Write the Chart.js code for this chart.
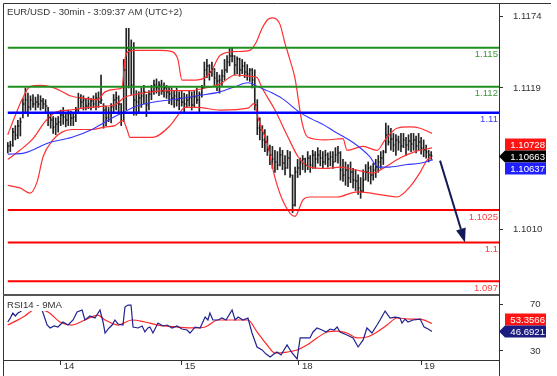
<!DOCTYPE html>
<html><head><meta charset="utf-8">
<script src="https://cdn.jsdelivr.net/npm/chart.js@4.4.1/dist/chart.umd.min.js"></script>
<style>
html,body{margin:0;padding:0;background:#fff;}
body{width:557px;height:376px;position:relative;overflow:hidden}
canvas{position:absolute;left:0}
</style></head><body>
<canvas id="main" width="557" height="296" style="top:0"></canvas>
<canvas id="rsi" width="557" height="80" style="top:296px"></canvas>
<script>
// ---------- texts / ticks ----------
const chartTitle = 'EUR/USD - 30min - 3:09:37 AM (UTC+2)';
const rsiTitle = 'RSI14 - 9MA';
const dayTicks = [21, 69, 115.5, 164];
const dayLabels = ['14', '15', '18', '19'];
const priceTicks = [1.1174, 1.1119, 1.1010];
const rsiTicks = [70, 30];

// ---------- 30-min bars (bar index 0..168) ----------
const highs = [1.1077,1.1078,1.1088,1.1090,1.1094,1.1096,1.1111,1.1119,1.1115,1.1113,
 1.1114,1.1112,1.1114,1.1113,1.1111,1.1110,1.1104,1.1100,1.1097,1.1096,
 1.1097,1.1102,1.1104,1.1100,1.1102,1.1101,1.1100,1.1104,1.1115,1.1114,
 1.1113,1.1111,1.1112,1.1111,1.1113,1.1115,1.1116,1.1129,1.1107,1.1105,
 1.1104,1.1107,1.1114,1.1116,1.1113,1.1107,1.1141,1.1165,1.1165,1.1156,
 1.1154,1.1117,1.1116,1.1119,1.1121,1.1114,1.1117,1.1121,1.1125,1.1126,
 1.1124,1.1125,1.1123,1.1121,1.1120,1.1119,1.1117,1.1119,1.1116,1.1117,
 1.1115,1.1114,1.1117,1.1116,1.1117,1.1119,1.1116,1.1121,1.1139,1.1141,
 1.1137,1.1139,1.1134,1.1131,1.1129,1.1133,1.1141,1.1144,1.1150,1.1150,
 1.1144,1.1143,1.1142,1.1141,1.1139,1.1137,1.1134,1.1134,1.1133,1.1110,
 1.1096,1.1090,1.1087,1.1082,1.1075,1.1074,1.1071,1.1070,1.1073,1.1071,
 1.1067,1.1071,1.1070,1.1052,1.1058,1.1064,1.1065,1.1067,1.1065,1.1070,
 1.1067,1.1071,1.1070,1.1073,1.1071,1.1070,1.1071,1.1069,1.1070,1.1070,
 1.1073,1.1074,1.1070,1.1064,1.1062,1.1060,1.1062,1.1057,1.1056,1.1052,
 1.1050,1.1056,1.1060,1.1062,1.1059,1.1061,1.1064,1.1067,1.1070,1.1071,
 1.1092,1.1090,1.1088,1.1084,1.1083,1.1082,1.1084,1.1084,1.1081,1.1083,
 1.1084,1.1084,1.1082,1.1084,1.1081,1.1079,1.1075,1.1071,1.1070];
const lows = [1.1069,1.1070,1.1074,1.1079,1.1080,1.1082,1.1096,1.1100,1.1097,1.1102,
 1.1104,1.1102,1.1104,1.1102,1.1103,1.1100,1.1090,1.1088,1.1084,1.1083,
 1.1085,1.1090,1.1091,1.1089,1.1090,1.1090,1.1090,1.1093,1.1100,1.1104,
 1.1102,1.1102,1.1103,1.1102,1.1104,1.1102,1.1104,1.1107,1.1088,1.1090,
 1.1093,1.1092,1.1100,1.1102,1.1099,1.1090,1.1093,1.1102,1.1119,1.1114,
 1.1098,1.1098,1.1100,1.1104,1.1107,1.1097,1.1102,1.1110,1.1114,1.1115,
 1.1113,1.1114,1.1112,1.1111,1.1107,1.1106,1.1104,1.1105,1.1102,1.1105,
 1.1100,1.1104,1.1105,1.1102,1.1104,1.1107,1.1100,1.1112,1.1119,1.1127,
 1.1125,1.1128,1.1121,1.1117,1.1115,1.1121,1.1125,1.1131,1.1136,1.1139,
 1.1129,1.1130,1.1128,1.1130,1.1127,1.1125,1.1124,1.1119,1.1102,1.1083,
 1.1079,1.1073,1.1070,1.1067,1.1060,1.1057,1.1054,1.1056,1.1059,1.1056,
 1.1052,1.1057,1.1050,1.1023,1.1028,1.1050,1.1052,1.1056,1.1054,1.1056,
 1.1054,1.1057,1.1057,1.1061,1.1059,1.1057,1.1060,1.1058,1.1059,1.1057,
 1.1062,1.1061,1.1048,1.1047,1.1044,1.1043,1.1046,1.1042,1.1040,1.1037,
 1.1034,1.1039,1.1048,1.1047,1.1045,1.1048,1.1050,1.1054,1.1057,1.1060,
 1.1069,1.1075,1.1071,1.1070,1.1067,1.1071,1.1070,1.1073,1.1067,1.1071,
 1.1070,1.1071,1.1069,1.1071,1.1068,1.1066,1.1065,1.1062,1.1064];
const closes = [1.1074,1.1075,1.1085,1.1083,1.1090,1.1093,1.1107,1.1110,1.1104,1.1110,
 1.1107,1.1108,1.1107,1.1109,1.1107,1.1105,1.1096,1.1094,1.1089,1.1091,
 1.1093,1.1098,1.1097,1.1094,1.1099,1.1096,1.1097,1.1102,1.1111,1.1108,
 1.1110,1.1105,1.1107,1.1109,1.1107,1.1111,1.1108,1.1110,1.1102,1.1096,
 1.1100,1.1104,1.1110,1.1111,1.1107,1.1100,1.1133,1.1150,1.1148,1.1121,
 1.1110,1.1108,1.1111,1.1113,1.1116,1.1106,1.1114,1.1117,1.1121,1.1119,
 1.1121,1.1117,1.1119,1.1116,1.1114,1.1111,1.1113,1.1110,1.1111,1.1108,
 1.1107,1.1110,1.1111,1.1106,1.1112,1.1110,1.1114,1.1119,1.1133,1.1136,
 1.1131,1.1134,1.1127,1.1124,1.1125,1.1128,1.1133,1.1139,1.1144,1.1144,
 1.1137,1.1141,1.1133,1.1136,1.1131,1.1130,1.1133,1.1125,1.1106,1.1088,
 1.1087,1.1079,1.1077,1.1071,1.1067,1.1064,1.1062,1.1060,1.1067,1.1061,
 1.1057,1.1065,1.1052,1.1029,1.1054,1.1057,1.1061,1.1064,1.1060,1.1065,
 1.1060,1.1067,1.1064,1.1067,1.1065,1.1062,1.1067,1.1064,1.1066,1.1062,
 1.1067,1.1069,1.1056,1.1052,1.1056,1.1050,1.1054,1.1048,1.1047,1.1042,
 1.1040,1.1048,1.1054,1.1057,1.1052,1.1056,1.1058,1.1062,1.1065,1.1070,
 1.1083,1.1077,1.1080,1.1075,1.1079,1.1077,1.1074,1.1079,1.1075,1.1078,
 1.1076,1.1079,1.1074,1.1077,1.1073,1.1071,1.1070,1.1067,1.10663];

// ---------- Bollinger bands (read at bar positions) ----------
const bbUpperBar = [0,3,5.6,8.8,12.8,16.8,20.7,24.7,30.6,35.4,38.6,42.5,45.3,46.5,47.7,50.5,60.4,65.2,67.5,69.1,74.3,78.3,81,84.2,90.2,96.1,98.5,100.9,103.3,105.2,108,109.9,111.9,113.9,116.8,119.1,125.9,133,134.6,141,146.5,149.7,154.4,159.6,163.6,168.3];
const bbUpperVal = [1.1083,1.1098,1.1110,1.1120,1.1121,1.1120,1.1117,1.1113,1.1111,1.1110,1.1116,1.1118,1.1119,1.1141,1.1147,1.1148,1.1148,1.1147,1.1141,1.1125,1.1125,1.1127,1.1133,1.1144,1.1147,1.1148,1.1154,1.1165,1.1172,1.1173,1.1168,1.1154,1.1141,1.1127,1.1092,1.1081,1.1079,1.1080,1.1071,1.1074,1.1071,1.1079,1.1088,1.1089,1.1088,1.1084];
const bbMidBar = [0,4.8,10,14.8,18.7,24.7,32.6,38.6,42.5,46.5,50.5,56.4,64.4,72.3,78.3,84.2,90.2,96.1,98.9,100.9,106,111.2,115.2,119.9,125.9,131.8,137.8,144.9,148.9,155.6,161.6,168.3];
const bbMidVal = [1.1064,1.1071,1.1080,1.1093,1.1100,1.1102,1.1104,1.1105,1.1106,1.1112,1.1114,1.1116,1.1117,1.1117,1.1119,1.1122,1.1129,1.1128,1.1127,1.1119,1.1102,1.1081,1.1066,1.1058,1.1057,1.1058,1.1056,1.10535,1.1057,1.1065,1.1070,1.10728];
const bbLowerBar = [0,4.8,8.8,11.6,14,17.9,21.5,25.5,33.4,38.6,42.5,45.7,47.3,48.5,57.6,64.4,68.3,70.3,75.1,84.2,95.3,97.7,99.3,103.3,106,109.9,113.9,117.2,119.9,130.7,138.6,148.9,154.4,159.6,163.6,166.4,168.3];
const bbLowerVal = [1.1044,1.1042,1.1038,1.10465,1.1066,1.1079,1.1085,1.1087,1.1087,1.1089,1.1090,1.1094,1.1087,1.1081,1.1081,1.1090,1.1100,1.1104,1.1104,1.1102,1.11035,1.1107,1.1096,1.10735,1.1050,1.1029,1.1020,1.1033,1.1035,1.1035,1.1039,1.10365,1.1035,1.1043,1.1054,1.10635,1.1066];

// ---------- blue moving average ----------
const maBar = [0,6.8,16,25.5,33.4,42.5,45.7,49.7,57.6,67.1,75.1,84.2,90.2,95.3,99.3,104,108.8,116,120.7,125.9,129.1,137,143.7,146.9,150.5,158.4,163.6,168.7];
const maVal = [1.1068,1.1069,1.10766,1.1081,1.1087,1.1097,1.1100,1.1104,1.1108,1.11105,1.1113,1.1116,1.1120,1.1123,1.1120,1.1116,1.1111,1.1100,1.1095,1.1090,1.1086,1.1077,1.1066,1.1058,1.1058,1.1060,1.1061,1.10637];

// ---------- horizontal levels ----------
const greenLevels = [1.115, 1.112];
const blueLevels = [1.11];
const redLevels = [1.1025, 1.1, 1.097];

// ---------- forecast arrow [bar, price] ----------
const arrowFrom = [171.5, 1.1063];
const arrowTo = [181.4, 1.1000];

// ---------- RSI14 and its 9MA ----------
const rsiBar = [0,1,2,3,4,4.8,6.8,10.8,13.6,15.6,16.8,18.4,19.9,21.9,23.9,25.9,27.5,29.5,30.6,32.6,34.6,36.6,37.8,38.6,40.2,41.4,42.5,43.7,45.7,46.5,47.7,48.9,49.7,51.7,53.3,54.4,55.6,56.4,57.6,59.6,61.6,63.2,65.2,67.1,69.1,71.1,72.3,74.3,76.3,78.3,79.4,80.2,81.4,83.4,85,86.6,89,90.2,91.4,93.3,95.3,96.9,98.9,100.9,102.5,104.1,105.6,106.8,108.4,110.8,112.8,114.8,116,118,119.9,121.1,122.7,124.7,126.3,127.9,129.5,130.7,131.8,134.6,137,139,141,142.5,144.5,146.5,147.7,149.7,151.7,153.7,155.6,156.4,157.6,158.8,160.8,163.6,165.2,166.8,168.3];
const rsiVal = [54.7,58,62.3,59.8,62.3,63.2,66.6,68.3,64.9,52.1,49.6,51.3,50.4,54.7,52.1,56.4,63.2,64.9,56.4,59.8,58.1,64.9,54.7,45.3,49.6,52.1,56.4,53,52.1,67.4,69.1,69.1,50.4,49.6,51.3,46.2,49.6,50.4,45.3,53.8,51.3,52.1,49.6,51.3,48.7,47.9,45.3,50.4,49.6,58.9,56.4,62.3,56.4,56.4,58.1,56.4,64.9,56.4,58.9,56.4,58.1,45.3,33.4,30.9,27.4,24.9,27.4,29.1,26.6,35.1,28.3,23.2,41.1,41.1,41.1,46.2,49.6,47.9,46.2,48.7,47.9,50.4,46.2,43.6,41.1,33.4,39.4,49.6,45.3,52.1,56.4,64,58.1,58.9,58.1,53.8,57.2,54.7,56.4,57.2,50.4,48.7,46.6921];
const rsiMaBar = [0,6.8,10,12,16,20.7,25.5,30.6,35.8,38.6,43.7,49.3,54.4,59.6,67.5,73.1,78.3,83.4,92.1,95.3,98.9,102.9,106,110.8,114.8,118.7,122.7,126.7,130.7,134.6,138.6,142.5,146.5,150.5,154.4,159.6,163.6,168.3];
const rsiMaVal = [52.1,59.8,64.9,65.7,63.2,54.7,52.1,56.4,60.6,56.4,52.1,56.4,54.7,52.1,50.4,49.6,50.4,56.4,56.4,56.4,46.2,35.1,28.3,29.1,30.9,35.1,41.1,46.2,47,45.3,41.1,41.9,46.2,52.1,58.1,57.2,57.2,53.3566];

// ---------- setup ----------
const FONT = '"Liberation Sans", Arial, Helvetica, sans-serif';
const FS = 9.6;
Chart.defaults.font.family = FONT;
Chart.defaults.font.size = FS;
Chart.defaults.color = '#333';

const X_MIN = -1.5, X_MAX = 194.9;
const pts = (xs, ys) => xs.map((x, i) => ({x, y: ys[i]}));
const lvl = v => [{x: 0, y: v}, {x: X_MAX, y: v}];
const noPad = a => { a.paddingTop = 0; a.paddingBottom = 0; a.paddingLeft = 0; a.paddingRight = 0; };

function lineDs(data, color, width, order) {
  return {type: 'line', data, borderColor: color, borderWidth: width, pointRadius: 0,
          cubicInterpolationMode: 'monotone', fill: false, order};
}

function drawTag(ctx, right, text, cy, bg, fg, pointer) {
  const h = 12, top = cy - h / 2, bot = cy + h / 2, bx = right + 6, ex = right + 47;
  ctx.fillStyle = bg;
  ctx.beginPath();
  if (pointer) { ctx.moveTo(right, cy); ctx.lineTo(bx, top); } else { ctx.moveTo(bx, top); }
  ctx.lineTo(ex, top); ctx.lineTo(ex, bot); ctx.lineTo(bx, bot); ctx.closePath(); ctx.fill();
  ctx.fillStyle = fg; ctx.textAlign = 'right'; ctx.textBaseline = 'middle';
  ctx.font = `${FS}px ${FONT}`;
  ctx.fillText(text, ex - 1, cy + 0.5);
}

const levelGroups = [
  {values: greenLevels, line: '#1f8f1f', text: '#3f9a3f', width: 2},
  {values: blueLevels, line: '#0000ff', text: '#3c3cff', width: 2.5},
  {values: redLevels, line: '#ff0000', text: '#ff4040', width: 2}
];

const mainDeco = {
  id: 'mainDeco',
  afterDatasetsDraw(chart) {
    const {ctx, chartArea: ca} = chart;
    const xs = chart.scales.x, ys = chart.scales.y;
    ctx.save();
    ctx.fillStyle = '#000';
    closes.forEach((c, i) => {
      const px = Math.round(xs.getPixelForValue(i));
      const py = Math.round(ys.getPixelForValue(c));
      ctx.fillRect(px, py - 0.5, 1.5, 1);
    });
    ctx.font = `${FS}px ${FONT}`;
    ctx.textAlign = 'right'; ctx.textBaseline = 'middle';
    levelGroups.forEach(g => g.values.forEach(v => {
      ctx.fillStyle = g.text;
      ctx.fillText(String(v), ca.right - 1, ys.getPixelForValue(v) + 7);
    }));
    const x0 = xs.getPixelForValue(arrowFrom[0]), y0 = ys.getPixelForValue(arrowFrom[1]);
    const x1 = xs.getPixelForValue(arrowTo[0]), y1 = ys.getPixelForValue(arrowTo[1]);
    const ang = Math.atan2(y1 - y0, x1 - x0), hl = 14, hw = 5;
    const bx = x1 - hl * Math.cos(ang), by = y1 - hl * Math.sin(ang);
    ctx.strokeStyle = '#141a55'; ctx.lineWidth = 2;
    ctx.beginPath(); ctx.moveTo(x0, y0); ctx.lineTo(bx, by); ctx.stroke();
    ctx.fillStyle = '#141a55';
    ctx.beginPath(); ctx.moveTo(x1, y1);
    ctx.lineTo(bx + hw * Math.sin(ang), by - hw * Math.cos(ang));
    ctx.lineTo(bx - hw * Math.sin(ang), by + hw * Math.cos(ang));
    ctx.closePath(); ctx.fill();
    ctx.restore();
  },
  afterDraw(chart) {
    const {ctx, chartArea: ca} = chart;
    const ys = chart.scales.y;
    ctx.save();
    ctx.strokeStyle = '#333'; ctx.lineWidth = 1;
    ctx.beginPath();
    ctx.moveTo(3.5, 296); ctx.lineTo(3.5, 3.5); ctx.lineTo(551, 3.5);
    ctx.moveTo(ca.right + 0.5, 3.5); ctx.lineTo(ca.right + 0.5, 296);
    ctx.stroke();
    ctx.fillStyle = '#555';
    ctx.fillRect(3, 294, ca.right - 3, 2);
    ctx.fillStyle = '#333'; ctx.font = `${FS}px ${FONT}`;
    ctx.textAlign = 'left'; ctx.textBaseline = 'middle';
    ctx.fillText(chartTitle, 7, 12);
    const cClose = ys.getPixelForValue(closes[closes.length - 1]);
    const cMid = Math.min(ys.getPixelForValue(bbMidVal[bbMidVal.length - 1]), cClose - 12);
    const cMa = Math.max(ys.getPixelForValue(maVal[maVal.length - 1]), cClose + 12);
    drawTag(ctx, ca.right, bbMidVal[bbMidVal.length - 1].toFixed(5), cMid, '#ff1414', '#fff', false);
    drawTag(ctx, ca.right, closes[closes.length - 1].toFixed(5), cClose, '#000', '#fff', true);
    drawTag(ctx, ca.right, maVal[maVal.length - 1].toFixed(5), cMa, '#2020ff', '#fff', false);
    ctx.restore();
  }
};

const datasets = [
  {type: 'bar', data: highs.map((h, i) => ({x: i, y: [lows[i], h]})),
   backgroundColor: '#222', borderWidth: 0, barThickness: 1, order: 10},
  lineDs(pts(bbUpperBar, bbUpperVal), '#ff3030', 1.2, 5),
  lineDs(pts(bbMidBar, bbMidVal), '#ff3030', 1.2, 5),
  lineDs(pts(bbLowerBar, bbLowerVal), '#ff3030', 1.2, 5),
  lineDs(pts(maBar, maVal), '#3535ff', 1.1, 4)
];
levelGroups.forEach(g => g.values.forEach(v => {
  datasets.push({type: 'line', data: lvl(v), borderColor: g.line, borderWidth: g.width,
                 pointRadius: 0, fill: false, order: 1});
}));

new Chart(document.getElementById('main'), {
  type: 'bar',
  data: {datasets},
  options: {
    responsive: false, animation: false, devicePixelRatio: 1,
    layout: {autoPadding: false, padding: {left: 4, top: 4, right: 0, bottom: 1}},
    plugins: {legend: {display: false}, tooltip: {enabled: false}},
    scales: {
      x: {type: 'linear', min: X_MIN, max: X_MAX, display: false, offset: false, grid: {offset: false}},
      y: {position: 'right', min: 1.09595, max: 1.11837, bounds: 'data',
          afterFit: a => { a.width = 58; noPad(a); },
          afterBuildTicks: a => { a.ticks = priceTicks.map(v => ({value: v})); },
          ticks: {callback: v => Number(v).toFixed(4), padding: 10, color: '#333', font: {size: FS}},
          grid: {drawOnChartArea: false, drawTicks: true, tickLength: 4, color: '#333'},
          border: {display: true, color: '#333'}}
    }
  },
  plugins: [mainDeco]
});

const rsiDeco = {
  id: 'rsiDeco',
  afterDraw(chart) {
    const {ctx, chartArea: ca} = chart;
    const ys = chart.scales.y;
    ctx.save();
    ctx.strokeStyle = '#333'; ctx.lineWidth = 1;
    ctx.beginPath();
    ctx.moveTo(3.5, 0); ctx.lineTo(3.5, 80);
    ctx.moveTo(ca.right + 0.5, 0); ctx.lineTo(ca.right + 0.5, 80);
    ctx.moveTo(3, ca.bottom + 0.5); ctx.lineTo(ca.right, ca.bottom + 0.5);
    ctx.stroke();
    ctx.font = `${FS}px ${FONT}`;
    const w = ctx.measureText(rsiTitle).width;
    ctx.fillStyle = '#fff'; ctx.fillRect(6, 3, w + 3, 12);
    ctx.fillStyle = '#333'; ctx.textAlign = 'left'; ctx.textBaseline = 'middle';
    ctx.fillText(rsiTitle, 7, 9);
    const cR = ys.getPixelForValue(rsiVal[rsiVal.length - 1]);
    const cM = Math.min(ys.getPixelForValue(rsiMaVal[rsiMaVal.length - 1]), cR - 12);
    drawTag(ctx, ca.right, rsiMaVal[rsiMaVal.length - 1].toFixed(4), cM, '#ff1414', '#fff', false);
    drawTag(ctx, ca.right, rsiVal[rsiVal.length - 1].toFixed(4), cR, '#1c1c80', '#fff', true);
    ctx.restore();
  }
};

new Chart(document.getElementById('rsi'), {
  type: 'line',
  data: {datasets: [
    {data: pts(rsiBar, rsiVal), borderColor: '#22228f', borderWidth: 1.2, pointRadius: 0, tension: 0, order: 1},
    {data: pts(rsiMaBar, rsiMaVal), borderColor: '#ff2626', borderWidth: 1.2, pointRadius: 0, cubicInterpolationMode: 'monotone', order: 2}
  ]},
  options: {
    responsive: false, animation: false, devicePixelRatio: 1,
    layout: {autoPadding: false, padding: {left: 4, top: 0, right: 0, bottom: 0}},
    plugins: {legend: {display: false}, tooltip: {enabled: false}},
    scales: {
      x: {type: 'linear', min: X_MIN, max: X_MAX, offset: false, bounds: 'data',
          afterFit: a => { a.height = 16; noPad(a); },
          afterBuildTicks: a => { a.ticks = dayTicks.map(v => ({value: v})); },
          ticks: {autoSkip: false, maxRotation: 0, align: 'start', labelOffset: 3, padding: -4,
                  callback: v => dayLabels[dayTicks.indexOf(v)], color: '#333', font: {size: FS}},
          grid: {drawOnChartArea: false, drawTicks: true, tickLength: 5, color: '#333'},
          border: {display: true, color: '#333'}},
      y: {position: 'right', min: 22.34, max: 76.81, bounds: 'data',
          afterFit: a => { a.width = 58; noPad(a); },
          afterBuildTicks: a => { a.ticks = rsiTicks.map(v => ({value: v})); },
          ticks: {callback: v => String(v), padding: 27, color: '#333', font: {size: FS}},
          grid: {drawOnChartArea: false, drawTicks: true, tickLength: 4, color: '#333'},
          border: {display: true, color: '#333'}}
    }
  },
  plugins: [rsiDeco]
});
</script>
</body></html>
